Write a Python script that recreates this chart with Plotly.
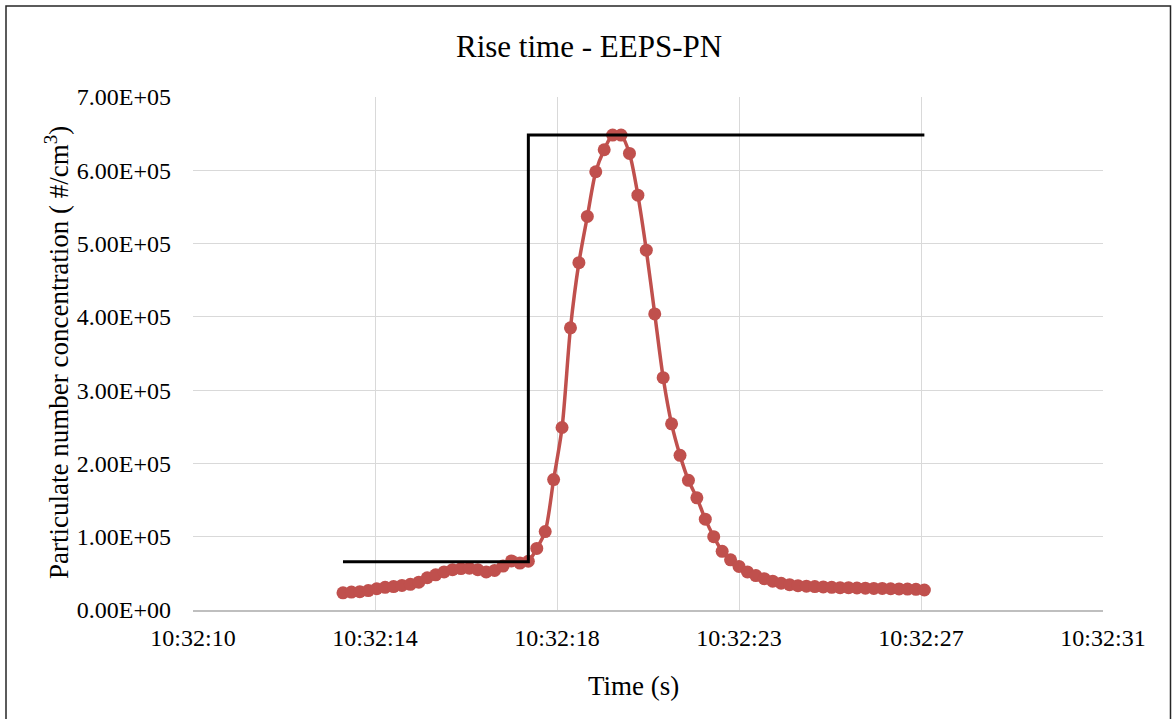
import plotly.graph_objects as go

# Time in seconds after 10:32:00 (EEPS sampling)
time_s = [13.56, 13.76, 13.96, 14.16, 14.36, 14.56, 14.76, 14.96, 15.16, 15.36,
          15.56, 15.76, 15.96, 16.16, 16.36, 16.56, 16.76, 16.96, 17.16, 17.36,
          17.56, 17.76, 17.96, 18.16, 18.36, 18.56, 18.76, 18.96, 19.16, 19.36,
          19.56, 19.76, 19.96, 20.16, 20.36, 20.56, 20.76, 20.96, 21.16, 21.36,
          21.56, 21.76, 21.96, 22.16, 22.36, 22.56, 22.76, 22.96, 23.16, 23.36,
          23.56, 23.76, 23.96, 24.16, 24.36, 24.56, 24.76, 24.96, 25.16, 25.36,
          25.56, 25.76, 25.96, 26.16, 26.36, 26.56, 26.76, 26.96, 27.16, 27.36]

pn = [23500, 24500, 25000, 26500, 29000, 31000, 32000, 33500, 35000, 38000,
      44000, 48000, 52000, 55000, 56500, 57000, 55000, 52000, 54000, 60000,
      67000, 64000, 66500, 84000, 107000, 178000, 249000, 385000, 474000, 537000,
      598000, 628000, 648000, 648000, 623000, 566000, 491000, 404000, 317000, 254000,
      211000, 177000, 153000, 124000, 100000, 80000, 68500, 59500, 52000, 47000,
      42700, 39300, 36500, 34500, 33200, 32500, 32000, 31500, 31000, 30500,
      30400, 30000, 29800, 29500, 29500, 29000, 28800, 28500, 28200, 27300]

step_x = [13.56, 17.96, 17.96, 27.36]
step_y = [66000, 66000, 648000, 648000]

x_tickvals = [10, 14.32, 18.64, 22.96, 27.28, 31.6]
x_ticktext = ["10:32:10", "10:32:14", "10:32:18", "10:32:23", "10:32:27", "10:32:31"]
y_tickvals = [0, 100000, 200000, 300000, 400000, 500000, 600000, 700000]
y_ticktext = ["0.00E+00", "1.00E+05", "2.00E+05", "3.00E+05", "4.00E+05",
              "5.00E+05", "6.00E+05", "7.00E+05"]

FONT = "Liberation Serif, Times New Roman, serif"
W, H = 1174, 719
L, R, T, B = 193, 1103, 97, 610
pw, ph = R - L, B - T

def px(x_page):
    return (x_page - L) / pw

def py(y_page):
    return (B - y_page) / ph

fig = go.Figure()
fig.add_trace(go.Scatter(
    x=time_s, y=pn, mode="lines+markers",
    line=dict(color="#C0504D", width=3.5, shape="spline", smoothing=0.8),
    marker=dict(color="#C0504D", size=13),
    showlegend=False, hoverinfo="x+y"))
fig.add_trace(go.Scatter(
    x=step_x, y=step_y, mode="lines",
    line=dict(color="#000000", width=3),
    showlegend=False))

fig.update_layout(
    width=W, height=H,
    margin=dict(l=L, r=W - R, t=T, b=H - B),
    paper_bgcolor="white", plot_bgcolor="white",
    font=dict(family=FONT, color="#000000", size=24),
    xaxis=dict(range=[10, 31.6], tickmode="array", tickvals=x_tickvals,
               ticktext=x_ticktext, showgrid=True, gridcolor="#d9d9d9",
               gridwidth=1, showline=True, linecolor="#bfbfbf", linewidth=1.5,
               ticks="", zeroline=False, ticklabelstandoff=5,
               tickfont=dict(family=FONT, size=24, color="#000000")),
    yaxis=dict(range=[0, 700000], tickmode="array", tickvals=y_tickvals,
               ticktext=y_ticktext, showgrid=True, gridcolor="#d9d9d9",
               gridwidth=1, showline=False, ticks="", zeroline=False,
               ticklabelstandoff=21,
               tickfont=dict(family=FONT, size=24, color="#000000")),
    annotations=[
        dict(text="Rise time - EEPS-PN", x=px(589), y=py(47), xref="paper",
             yref="paper", showarrow=False, xanchor="center", yanchor="middle",
             font=dict(family=FONT, size=31, color="#000000")),
        dict(text="Particulate number concentration ( #/cm<sup>3</sup>)",
             x=px(57), y=py(353), xref="paper", yref="paper", showarrow=False,
             textangle=-90, xanchor="center", yanchor="middle",
             font=dict(family=FONT, size=27, color="#000000")),
        dict(text="Time (s)", x=px(633), y=py(686), xref="paper", yref="paper",
             showarrow=False, xanchor="center", yanchor="middle",
             font=dict(family=FONT, size=27, color="#000000")),
    ],
    shapes=[dict(type="rect", xref="paper", yref="paper",
                 x0=px(6), x1=px(1170.5), y0=py(740), y1=py(6),
                 line=dict(color="#262626", width=1.5), layer="below")],
)

fig.write_html(
    "out.html",
    config={"displayModeBar": False},
    post_script="document.body.style.margin='0';"
                "document.body.style.overflow='hidden';")
